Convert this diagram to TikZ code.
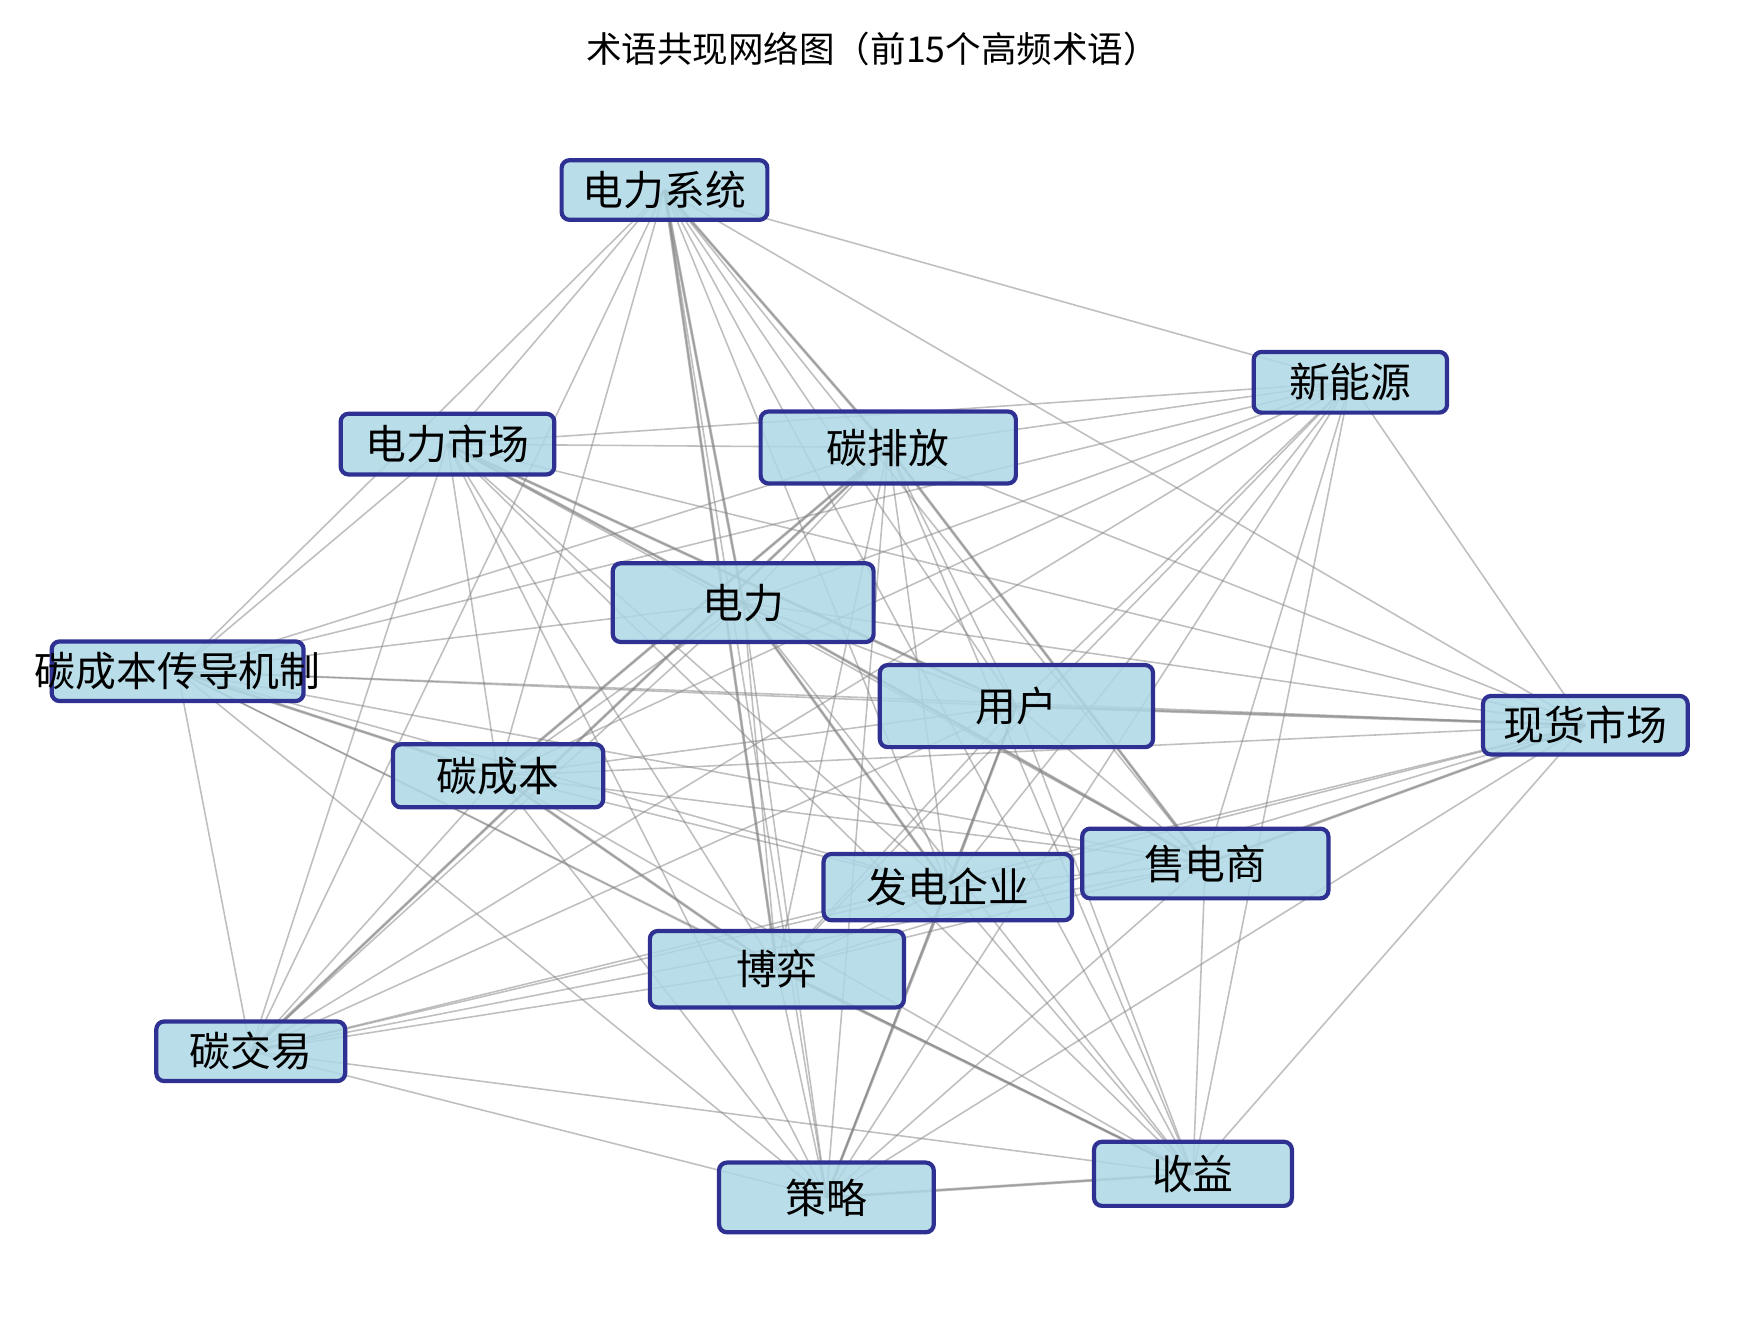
\documentclass[tikz,border=0pt]{standalone}
\usepackage{fontspec}
\setmainfont{Noto Sans CJK SC}
\begin{document}
\begin{tikzpicture}[x=0.03cm,y=-0.03cm,
  term/.style={draw=bordercol, line width=3.2pt, rounded corners=6pt, fill=lightblue, fill opacity=0.85, text opacity=1, inner sep=0pt, font=\fontsize{31}{36}\selectfont},
  edge/.style={draw=gray, opacity=0.5, line width=1.2pt}]
\definecolor{lightblue}{RGB}{173,216,230}
\definecolor{bordercol}{RGB}{46,49,146}
\useasboundingbox (0,0) rectangle (1560,1180);
\node[font=\fontsize{27}{32}\selectfont] (title) at (776,44) {术语共现网络图（前15个高频术语）};
\coordinate (c1) at (591,169);
\coordinate (c2) at (1201,340);
\coordinate (c3) at (398,395);
\coordinate (c4) at (790,398);
\coordinate (c5) at (661,536);
\coordinate (c6) at (158,597);
\coordinate (c7) at (904,628);
\coordinate (c8) at (1410,645);
\coordinate (c9) at (443,690);
\coordinate (c10) at (1072,768);
\coordinate (c11) at (843,789);
\coordinate (c12) at (691,862);
\coordinate (c13) at (223,935);
\coordinate (c14) at (735,1065);
\coordinate (c15) at (1061,1044);
\foreach \i in {1,...,15}{
  \foreach \j in {1,...,15}{
    \ifnum\i<\j \draw[edge] (c\i) -- (c\j); \fi
  }
}
\foreach \a/\b in {1/5,1/12,1/4,3/5,3/7,4/9,4/13,4/10,5/11,5/10,7/8,7/11,9/12,12/15,14/15,11/14,6/9,10/8}{
  \draw[edge, line width=2.2pt] (c\a) -- (c\b);
}
\newcommand\tnode[5]{\node[term, minimum width=#3*0.03cm, minimum height=#4*0.03cm] (#1) at (#2) {#5};}
\tnode{n1}{c1}{183}{53}{电力系统}
\tnode{n2}{c2}{172}{54}{新能源}
\tnode{n3}{c3}{190}{54}{电力市场}
\tnode{n4}{c4}{227}{64}{碳排放}
\tnode{n5}{c5}{232}{70}{电力}
\node[term, minimum width=224*0.03cm, minimum height=53*0.03cm, text width=224*0.03cm, align=center] (n6) at (c6) {\makebox[0pt]{碳成本传导机制}};
\tnode{n7}{c7}{243}{73}{用户}
\tnode{n8}{c8}{182}{52}{现货市场}
\tnode{n9}{c9}{187}{56}{碳成本}
\tnode{n10}{c10}{219}{62}{售电商}
\tnode{n11}{c11}{221}{59}{发电企业}
\tnode{n12}{c12}{226}{68}{博弈}
\tnode{n13}{c13}{168}{53}{碳交易}
\tnode{n14}{c14}{191}{62}{策略}
\tnode{n15}{c15}{176}{57}{收益}
\end{tikzpicture}
\end{document}
